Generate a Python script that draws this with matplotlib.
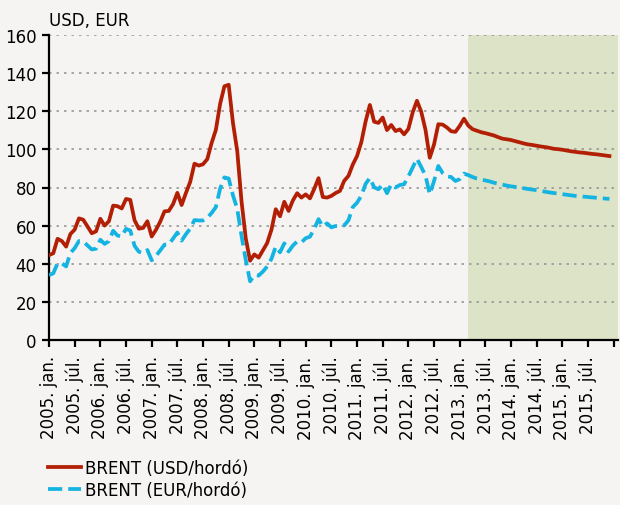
import numpy as np
import matplotlib
matplotlib.use("Agg")
import matplotlib.pyplot as plt


# ==============
# DATA
# ==============

YEARS = list(range(2005, 2016))
TICK_LABELS = [f"{y}. {m}" for y in YEARS for m in ("jan.", "júl.")]

# monthly values, 2005 jan. -> 2013 feb. (actual)
USD_ACTUAL = [
    44.5, 45.5, 53.1, 51.9, 49.0, 55.6, 57.9, 63.8, 63.1, 59.5, 56.0, 57.0,
    63.6, 60.0, 62.3, 70.5, 70.2, 69.0, 74.0, 73.5, 62.8, 58.4, 58.8, 62.3,
    54.3, 57.8, 62.1, 67.5, 67.7, 71.3, 77.2, 70.8, 77.1, 82.9, 92.5, 91.5,
    92.2, 94.9, 103.3, 110.2, 123.9, 133.1, 133.9, 113.9, 99.1, 72.8, 53.2, 41.6,
    44.9, 43.2, 47.0, 50.9, 57.9, 68.6, 64.9, 72.5, 67.7, 73.2, 77.0, 74.7,
    76.4, 74.3, 79.3, 84.9, 75.0, 74.7, 75.6, 77.1, 78.2, 83.5, 86.1, 92.0,
    96.5, 103.7, 114.6, 123.3, 114.5, 113.9, 116.7, 110.1, 112.8, 109.6, 110.5, 107.9,
    110.7, 119.3, 125.5, 119.8, 110.3, 95.6, 102.6, 113.2, 113.0, 111.5, 109.5, 109.2,
    112.3, 116.1,
]
EUR_ACTUAL = [
    34.0, 35.0, 40.2, 40.2, 38.6, 45.6, 48.2, 51.9, 51.7, 49.6, 47.5, 47.9,
    52.6, 50.4, 51.9, 57.3, 54.8, 54.3, 58.3, 57.4, 49.4, 46.3, 45.6, 47.2,
    41.8, 44.1, 47.0, 50.0, 50.1, 53.2, 56.4, 52.1, 55.5, 58.4, 62.9, 62.7,
    62.7, 64.1, 66.6, 69.7, 79.4, 85.3, 84.7, 75.9, 68.8, 54.7, 41.9, 30.8,
    34.0, 33.8, 35.9, 38.6, 42.6, 49.0, 46.0, 50.7, 46.4, 49.5, 51.7, 51.2,
    53.4, 54.2, 58.3, 63.4, 59.5, 61.2, 59.1, 59.8, 59.7, 60.1, 62.8, 69.7,
    72.0, 75.7, 81.9, 85.0, 80.1, 79.1, 81.6, 77.0, 81.7, 80.0, 81.3, 81.7,
    85.8, 90.4, 95.1, 90.8, 86.2, 76.5, 83.4, 91.3, 87.6, 85.8, 85.5, 83.4,
    84.4, 87.3,
]

# forecast, 2013 márc. -> 2015 dec.
USD_FORECAST = [
    112.5, 110.6, 109.8, 109.0, 108.5, 107.9, 107.3, 106.4, 105.6, 105.3,
    104.9, 104.3, 103.7, 103.1, 102.6, 102.3, 101.9, 101.5, 101.2, 100.8,
    100.3, 100.1, 99.8, 99.4, 99.0, 98.7, 98.4, 98.2, 97.9, 97.6,
    97.4, 97.1, 96.8, 96.5,
]
EUR_FORECAST = [
    86.5, 85.5, 84.7, 84.2, 83.7, 83.2, 82.5, 82.0, 81.5, 81.0,
    80.6, 80.3, 80.0, 79.6, 79.2, 78.9, 78.6, 78.2, 77.8, 77.4,
    77.1, 76.8, 76.5, 76.2, 75.9, 75.6, 75.4, 75.2, 75.0, 74.8,
    74.6, 74.4, 74.2, 74.0,
]

SHADE_START = len(USD_ACTUAL)   # forecast period begins here

# ==============
# STYLE
# ==============

BG = "#f5f4f2"
SHADE = "#dce3c6"
RED = "#b31f05"
CYAN = "#14b4e2"

plt.rcParams["font.family"] = ["DejaVu Sans"]
plt.rcParams["font.size"] = 12


def plot_brent(save_file="out.png"):
    usd = np.array(USD_ACTUAL + USD_FORECAST)
    eur = np.array(EUR_ACTUAL + EUR_FORECAST)
    x = np.arange(len(usd))
    n_months = len(usd) + 1

    fig = plt.figure(figsize=(6.2, 5.06), dpi=100, facecolor=BG)
    ax = fig.add_axes([49 / 620, 1 - 341 / 506, 569 / 620, 305 / 506])
    ax.set_facecolor(BG)

    ax.axvspan(SHADE_START, n_months, color=SHADE, lw=0, zorder=0)

    ax.plot(x, usd, color=RED, lw=2.7, label="BRENT (USD/hordó)", zorder=3)
    ax.plot(x, eur, color=CYAN, lw=2.7, dashes=(3.8, 1.6),
            label="BRENT (EUR/hordó)", zorder=3)

    ax.set_xlim(0, n_months)
    ax.set_ylim(0, 160)
    ax.set_yticks(np.arange(0, 161, 20))
    ticks = np.arange(0, n_months + 1, 6)
    ax.set_xticks(ticks)
    ax.set_xticklabels(TICK_LABELS + [""] * (len(ticks) - len(TICK_LABELS)),
                       rotation=90)

    ax.grid(axis="y", color="#999999", ls=(0, (1.5, 3)), lw=1.2)
    ax.set_axisbelow(True)

    for side in ("top", "right"):
        ax.spines[side].set_visible(False)
    for side in ("left", "bottom"):
        ax.spines[side].set_linewidth(1.6)
    ax.tick_params(axis="both", length=5, width=1.6, pad=4, colors="black")
    ax.tick_params(axis="x", pad=6)

    fig.text(49 / 620, 1 - 21 / 506, "USD, EUR", va="center", ha="left")

    fig.legend(loc="upper left", bbox_to_anchor=(48 / 620, 1 - 460 / 506),
               frameon=False, handlelength=2.0, handletextpad=0.2,
               borderpad=0, borderaxespad=0, labelspacing=0.25)

    fig.savefig(save_file, facecolor=BG)
    plt.close()


if __name__ == "__main__":
    plot_brent()
